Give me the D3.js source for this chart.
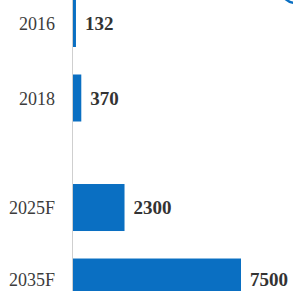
<!DOCTYPE html>
<html>
<head>
<meta charset="utf-8">
<script src="https://cdn.jsdelivr.net/npm/d3@7"></script>
<style>
  html, body { margin: 0; padding: 0; background: #fff; overflow: hidden; }
</style>
</head>
<body>
<div id="chart"></div>
<script>
// data
var years = ["2016", "2018", "2025F", "2035F"];
var values = [132, 370, 2300, 7500];

// layout: the gap before 2025F is wider than the others
var slots = [0, 1, 2.47, 3.47];
var widthFull = 293, heightFull = 291;
var left = 73, barH = 47, pitch = 74.5;
var barColor = "#0a6fc2";

var svg = d3.select("#chart").append("svg")
    .attr("width", widthFull)
    .attr("height", heightFull);

var x = d3.scaleLinear().domain([0, 7500]).range([left, 241]);
var y = d3.scaleLinear().domain([0, 1]).range([0, pitch]);
var slotOf = d3.scaleOrdinal().domain(years).range(slots);

// baseline of a label, kept inside the picture
function baseline(d) {
    return Math.min(y(slotOf(d.year)) + barH / 2 + 6.5, heightFull - 5);
}

// axis line
svg.append("line")
    .attr("x1", left - 0.5).attr("x2", left - 0.5)
    .attr("y1", 0).attr("y2", heightFull)
    .attr("stroke", "#cfcfcf")
    .attr("stroke-width", 1);

var data = years.map(function(d, i) { return { year: d, value: values[i] }; });

svg.selectAll("rect.bar")
    .data(data).enter().append("rect")
    .attr("class", "bar")
    .attr("x", x(0))
    .attr("y", d => y(slotOf(d.year)))
    .attr("width", d => Math.max(2, x(d.value) - x(0)))
    .attr("height", barH)
    .attr("fill", barColor);

// category labels
svg.selectAll("text.cat")
    .data(data).enter().append("text")
    .attr("class", "cat")
    .attr("x", 55)
    .attr("y", baseline)
    .attr("text-anchor", "end")
    .attr("font-family", "'Liberation Serif', 'DejaVu Serif', serif")
    .attr("font-size", 18)
    .attr("fill", "#3c3c3c")
    .text(d => d.year);

// value labels
svg.selectAll("text.val")
    .data(data).enter().append("text")
    .attr("class", "val")
    .attr("x", d => Math.max(x(0) + 2, x(d.value)) + 9)
    .attr("y", baseline)
    .attr("font-family", "'Liberation Serif', 'DejaVu Serif', serif")
    .attr("font-size", 19)
    .attr("font-weight", "bold")
    .attr("fill", "#333")
    .text(d => d3.format("d")(d.value));

// decorative arc fragment at top right
svg.append("circle")
    .attr("cx", 296).attr("cy", -13)
    .attr("r", 16)
    .attr("fill", "none")
    .attr("stroke", barColor)
    .attr("stroke-width", 2.5);
</script>
</body>
</html>
